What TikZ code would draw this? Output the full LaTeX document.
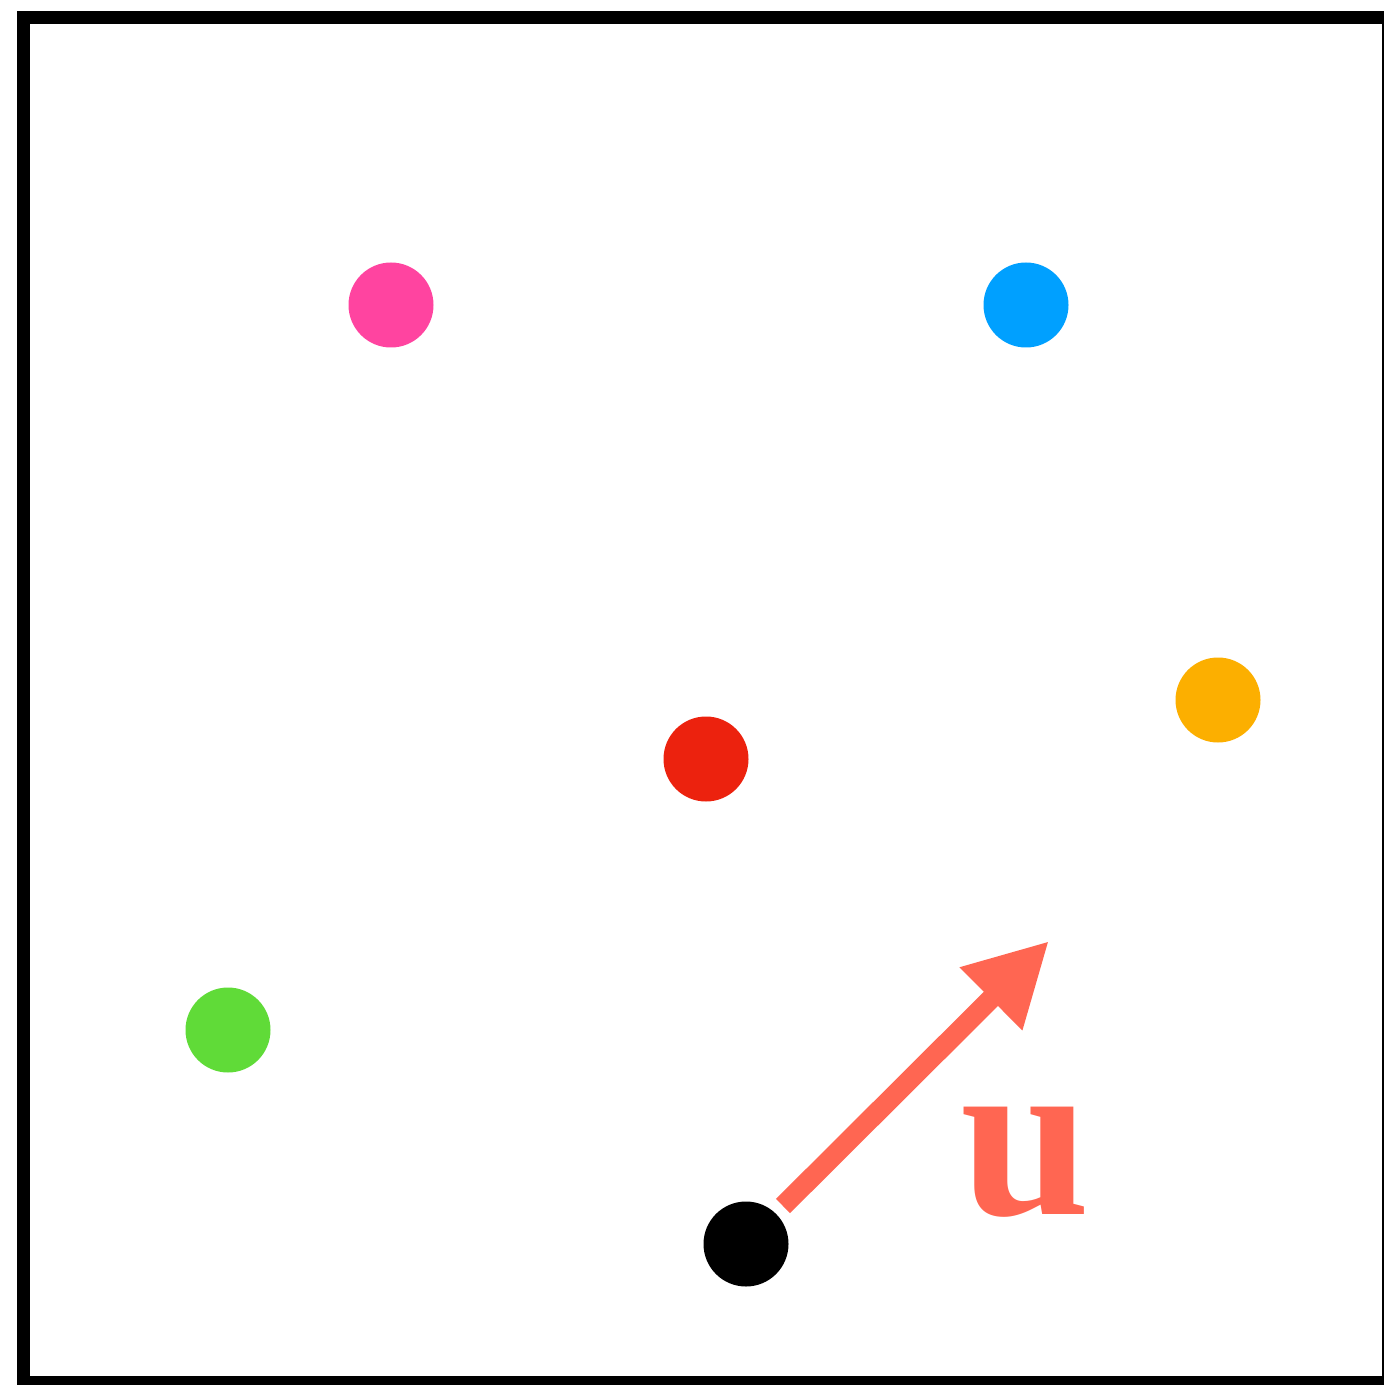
\documentclass[tikz,border=0pt]{standalone}
\usepackage{fontspec}
\newfontfamily\ufont{Liberation Serif}
\usetikzlibrary{arrows.meta}
\definecolor{coral}{RGB}{255,102,82}
\definecolor{dpink}{RGB}{255,68,160}
\definecolor{dblue}{RGB}{0,160,255}
\definecolor{dorange}{RGB}{252,175,0}
\definecolor{dred}{RGB}{236,34,14}
\definecolor{dgreen}{RGB}{96,219,56}
\begin{document}
\begin{tikzpicture}[x=0.5pt,y=-0.5pt,
  dot/.style={circle,inner sep=0pt,minimum size=42.5pt,fill=#1,draw=none},
  frame/.style={draw=black,line width=6.5pt},
  vec/.style={draw=coral,line width=10pt,-{Triangle[length=41pt,width=41.5pt]}}]
\clip (0,0) rectangle (1384,1385);
\fill[white] (0,0) rectangle (1384,1385);
\draw[frame] (23.5,17.5) rectangle (1388.5,1382.5);
\node[dot=dpink] (pink) at (391,305) {};
\node[dot=dblue] (blue) at (1026,305) {};
\node[dot=dorange] (orange) at (1218,700) {};
\node[dot=dred] (red) at (706,759) {};
\node[dot=dgreen] (green) at (228,1030) {};
\node[dot=black] (origin) at (746,1244) {};
\coordinate (ustart) at (783,1206);
\coordinate (uend) at (1049,941);
\draw[vec] (ustart) -- (uend);
\node[text=coral,inner sep=0pt] (ulabel) at (1026,1162) {\ufont\bfseries\fontsize{117}{117}\selectfont u};
\end{tikzpicture}
\end{document}
